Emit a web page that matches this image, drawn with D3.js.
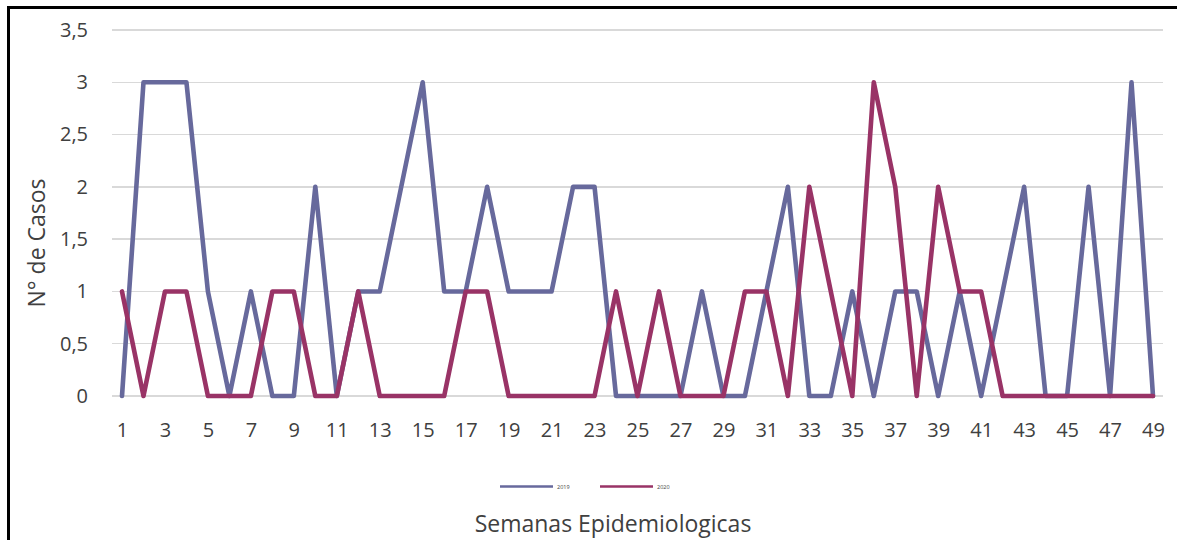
<html>
<head>
<script src="https://d3js.org/d3.v7.min.js"></script>
<style>
body { margin: 0; background: #fff; }
text { font-family: "Open Sans", sans-serif; fill: #404040; }
.grid line { stroke: #d9d9d9; stroke-width: 1.3; shape-rendering: crispEdges; }
.axis text { font-size: 20px; }
.line { fill: none; stroke-width: 4.6; stroke-linejoin: round; stroke-linecap: round; }
</style>
</head>
<body>
<svg width="1177" height="540"></svg>
<script>

// semanas epidemiologicas 1..49
var weeks = d3.range(1, 50);
var casos2019 = [0,3,3,3,1,0,1,0,0,2,0,1,1,2,3,1,1,2,1,1,1,2,2,0,0,0,0,1,0,0,1,2,0,0,1,0,1,1,0,1,0,1,2,0,0,2,0,3,0];
var casos2020 = [1,0,1,1,0,0,0,1,1,0,0,1,0,0,0,0,1,1,0,0,0,0,0,1,0,1,0,0,0,1,1,0,2,1,0,3,2,0,2,1,1,0,0,0,0,0,0,0,0];
var yTicks = [0,0.5,1,1.5,2,2.5,3,3.5];
var seriesNames = ["2019", "2020"];
var colors = ["#67699c", "#993366"];

var svg = d3.select("svg");

// chart border (extends past right/bottom edges)
svg.append("rect")
    .attr("x", 8.5).attr("y", 7.5)
    .attr("width", 1200).attr("height", 600)
    .attr("fill", "none")
    .attr("stroke", "#000")
    .attr("stroke-width", 3);

var x = d3.scaleLinear().domain([1, 49]).range([122, 1153]);
var y = d3.scaleLinear().domain([0, 3.5]).range([396, 30]);

// gridlines
svg.append("g").attr("class", "grid")
  .selectAll("line").data(yTicks).enter().append("line")
    .attr("x1", 112).attr("x2", 1163)
    .attr("y1", function(d) { return y(d); })
    .attr("y2", function(d) { return y(d); });

var fmt = function(d) { return String(d).replace(".", ","); };

var yAxis = d3.axisLeft(y).tickValues(yTicks).tickFormat(fmt).tickSize(0).tickPadding(0);
svg.append("g").attr("class", "axis")
    .attr("transform", "translate(88,0)")
    .call(yAxis)
    .call(function(g) { g.select(".domain").remove(); });

var xAxis = d3.axisBottom(x).tickValues(weeks.filter(function(d) { return d % 2 === 1; }))
    .tickFormat(d3.format("d")).tickSize(0).tickPadding(0);
svg.append("g").attr("class", "axis")
    .attr("transform", "translate(0,423)")
    .call(xAxis)
    .call(function(g) { g.select(".domain").remove(); });

var line = d3.line()
    .x(function(d, i) { return x(weeks[i]); })
    .y(function(d) { return y(d); });

[casos2019, casos2020].forEach(function(s, k) {
  svg.append("path")
      .datum(s)
      .attr("class", "line")
      .attr("stroke", colors[k])
      .attr("d", line);
});

// legend
var legend = svg.append("g");
seriesNames.forEach(function(n, k) {
  var lx = 500 + k * 100;
  legend.append("line")
      .attr("x1", lx).attr("x2", lx + 53)
      .attr("y1", 486.5).attr("y2", 486.5)
      .attr("stroke", colors[k]).attr("stroke-width", 2.5);
  legend.append("text")
      .attr("x", lx + 57).attr("y", 488.5)
      .style("font-size", "5.5px")
      .text(n);
});

// axis titles
svg.append("text")
    .attr("x", 613).attr("y", 532)
    .attr("text-anchor", "middle")
    .style("font-size", "23px")
    .text("Semanas Epidemiologicas");

svg.append("text")
    .attr("transform", "translate(45,243) rotate(-90)")
    .attr("text-anchor", "middle")
    .style("font-size", "23px")
    .text("N° de Casos");

</script>
</body>
</html>
